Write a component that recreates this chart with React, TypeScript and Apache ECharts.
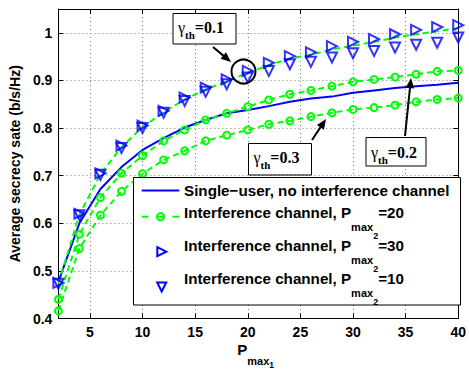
import React, { useEffect, useRef } from 'react';
import * as echarts from 'echarts';

// ---------- data ----------
const xValues = [2, 4, 6, 8, 10, 12, 14, 16, 18, 20, 22, 24, 26, 28, 30, 32, 34, 36, 38, 40];
const singleUser = [0.477, 0.600, 0.672, 0.718, 0.754, 0.779, 0.801, 0.817, 0.831, 0.838, 0.846, 0.855, 0.862, 0.866, 0.874, 0.879, 0.884, 0.888, 0.891, 0.895];
const icGamma01 = [0.473, 0.618, 0.703, 0.760, 0.802, 0.833, 0.860, 0.881, 0.898, 0.916, 0.932, 0.946, 0.954, 0.965, 0.973, 0.981, 0.990, 0.997, 1.003, 1.010];
const icGamma02 = [0.440, 0.577, 0.654, 0.705, 0.742, 0.773, 0.796, 0.817, 0.831, 0.845, 0.859, 0.871, 0.879, 0.888, 0.897, 0.902, 0.907, 0.913, 0.919, 0.921];
const icGamma03 = [0.416, 0.547, 0.617, 0.667, 0.704, 0.733, 0.752, 0.773, 0.785, 0.796, 0.808, 0.815, 0.824, 0.832, 0.839, 0.843, 0.848, 0.855, 0.860, 0.863];
const icPmax30 = [0.475, 0.620, 0.705, 0.763, 0.805, 0.836, 0.864, 0.885, 0.902, 0.920, 0.937, 0.951, 0.959, 0.972, 0.981, 0.987, 0.997, 1.006, 1.012, 1.016];
const icPmax10 = [0.473, 0.617, 0.702, 0.758, 0.800, 0.832, 0.857, 0.876, 0.892, 0.906, 0.920, 0.934, 0.939, 0.948, 0.957, 0.962, 0.969, 0.975, 0.979, 0.990];
const xTicks = [5, 10, 15, 20, 25, 30, 35, 40];
const yTicks = [0.4, 0.5, 0.6, 0.7, 0.8, 0.9, 1.0];

const legendSingle = 'Single\u2212user, no interference channel';
const legendIcMain = 'Interference channel, P';
const legendIcValues = ['=20', '=30', '=10'];
const annotationLabels = ['=0.1', '=0.2', '=0.3'];

const BLUE = '#0000ff';
const GREEN = '#00ff00';
const SANS = '"Liberation Sans", Arial, Helvetica, sans-serif';
const SERIF = '"Liberation Serif", "Times New Roman", serif';

const pairs = (ys: number[]) => xValues.map((x, i) => [x, ys[i]]);

type Part = { text: string; size: number; weight: string; family: string; dy: number };

let measureCtx: CanvasRenderingContext2D | null = null;
function measure(p: Part) {
  if (!measureCtx) measureCtx = document.createElement('canvas').getContext('2d');
  if (!measureCtx) return p.text.length * p.size * 0.55;
  measureCtx.font = `${p.weight} ${p.size}px ${p.family}`;
  return measureCtx.measureText(p.text).width;
}

function partsWidth(parts: Part[]) {
  return parts.reduce((s, p) => s + measure(p), 0);
}

function composite(x: number, centerY: number, parts: Part[], z = 101) {
  const out: any[] = [];
  let cx = x;
  for (const p of parts) {
    out.push({
      type: 'text',
      x: cx,
      y: centerY + p.dy,
      z,
      style: {
        text: p.text,
        fontSize: p.size,
        fontWeight: p.weight,
        fontFamily: p.family,
        fill: '#000',
        align: 'left',
        verticalAlign: 'middle',
      },
    });
    cx += measure(p);
  }
  return out;
}

function arrow(x1: number, y1: number, x2: number, y2: number) {
  const dx = x2 - x1;
  const dy = y2 - y1;
  const len = Math.hypot(dx, dy);
  const ux = dx / len;
  const uy = dy / len;
  const hl = 10;
  const hw = 4.2;
  const bx = x2 - ux * hl;
  const by = y2 - uy * hl;
  return [
    { type: 'line', shape: { x1, y1, x2: bx + ux * 2, y2: by + uy * 2 }, style: { stroke: '#000', lineWidth: 2 }, z: 100 },
    {
      type: 'polygon',
      shape: { points: [[x2, y2], [bx - uy * hw, by + ux * hw], [bx + uy * hw, by - ux * hw]] },
      style: { fill: '#000' },
      z: 100,
    },
  ];
}

function annotation(bx: number, by: number, bw: number, bh: number, textCenterY: number, label: string) {
  const parts: Part[] = [
    { text: '\u03b3', size: 16, weight: 'normal', family: SERIF, dy: 0 },
    { text: 'th', size: 11, weight: 'bold', family: SERIF, dy: 7.5 },
    { text: label, size: 16, weight: 'bold', family: SERIF, dy: 0 },
  ];
  return [
    { type: 'rect', shape: { x: bx, y: by, width: bw, height: bh }, style: { fill: '#fff', stroke: '#000', lineWidth: 1 }, z: 100 },
    ...composite(bx + 5, textCenterY, parts),
  ];
}

const LEG_SIZE = 15.2;

function legendIcParts(value: string): Part[] {
  return [
    { text: legendIcMain, size: LEG_SIZE, weight: 'bold', family: SANS, dy: 0 },
    { text: 'max', size: 11, weight: 'bold', family: SANS, dy: 14.5 },
    { text: '2', size: 9, weight: 'bold', family: SANS, dy: 23.5 },
    { text: value, size: LEG_SIZE, weight: 'bold', family: SANS, dy: 0 },
  ];
}

export default function App() {
  const ref = useRef<HTMLDivElement>(null);

  useEffect(() => {
    if (!ref.current) return;
    const chart = echarts.init(ref.current, undefined, { renderer: 'svg' });

    const gridLine = { show: true, lineStyle: { color: '#7a7a7a', width: 1, type: [1, 3] } };
    const axisLineStyle = { show: true, onZero: false, lineStyle: { color: '#000', width: 1 } };
    const tickStyle = { show: true, inside: true, length: 5, lineStyle: { color: '#000', width: 1 } };
    const labelStyle = { color: '#000', fontSize: 14, fontWeight: 'bold', fontFamily: SANS };

    const hollow = (c: string) => ({ color: 'rgba(0,0,0,0)', borderColor: c, borderWidth: 2 });

    const xNameParts: Part[] = [
      { text: 'P', size: 15, weight: 'bold', family: SANS, dy: 0 },
      { text: 'max', size: 11, weight: 'bold', family: SANS, dy: 11 },
      { text: '1', size: 8.5, weight: 'bold', family: SANS, dy: 15 },
    ];
    const xNameX = 255.7 - partsWidth(xNameParts) / 2;

    const graphicElements: any[] = [
      // annotations
      ...annotation(173, 13.5, 63, 30.5, 27, annotationLabels[0]),
      ...annotation(248.5, 143.5, 63, 31.5, 157, annotationLabels[2]),
      ...annotation(366, 137.5, 60, 28.5, 152.5, annotationLabels[1]),
      ...arrow(213, 47, 231, 62),
      ...arrow(312, 140, 326, 119),
      ...arrow(405, 136, 411, 78),
      { type: 'circle', shape: { cx: 243.5, cy: 71.5, r: 12 }, style: { fill: 'rgba(0,0,0,0)', stroke: '#000', lineWidth: 2 }, z: 100 },
      // legend
      { type: 'rect', shape: { x: 133.5, y: 177.5, width: 327, height: 127.5 }, style: { fill: '#fff', stroke: '#000', lineWidth: 1 }, z: 100 },
      { type: 'line', shape: { x1: 141.7, y1: 190.5, x2: 179.3, y2: 190.5 }, style: { stroke: BLUE, lineWidth: 2 }, z: 101 },
      { type: 'line', shape: { x1: 141.7, y1: 216.7, x2: 148.5, y2: 216.7 }, style: { stroke: GREEN, lineWidth: 2 }, z: 101 },
      { type: 'line', shape: { x1: 157.5, y1: 216.7, x2: 163.5, y2: 216.7 }, style: { stroke: GREEN, lineWidth: 2 }, z: 101 },
      { type: 'line', shape: { x1: 172.5, y1: 216.7, x2: 179.3, y2: 216.7 }, style: { stroke: GREEN, lineWidth: 2 }, z: 101 },
      { type: 'circle', shape: { cx: 160.5, cy: 216.7, r: 3.6 }, style: { fill: 'rgba(0,0,0,0)', stroke: GREEN, lineWidth: 2 }, z: 101 },
      {
        type: 'polygon',
        shape: { points: [[157.3, 247.2], [166.3, 251.7], [157.3, 256.2]] },
        style: { fill: 'rgba(0,0,0,0)', stroke: BLUE, lineWidth: 2 },
        z: 101,
      },
      {
        type: 'polygon',
        shape: { points: [[157.2, 282.5], [166.2, 282.5], [161.7, 291.5]] },
        style: { fill: 'rgba(0,0,0,0)', stroke: BLUE, lineWidth: 2 },
        z: 101,
      },
      ...composite(184, 190.5, [{ text: legendSingle, size: LEG_SIZE, weight: 'bold', family: SANS, dy: 0 }]),
      ...composite(184, 212.7, legendIcParts(legendIcValues[0])),
      ...composite(184, 245, legendIcParts(legendIcValues[1])),
      ...composite(184, 278.3, legendIcParts(legendIcValues[2])),
      // x axis title
      ...composite(xNameX, 349.5, xNameParts, 50),
    ];

    chart.setOption({
      animation: false,
      backgroundColor: '#fff',
      grid: { left: 52, right: 9, top: 9, bottom: 50.5, show: false },
      xAxis: [
        {
          type: 'value',
          min: 2,
          max: 40,
          position: 'bottom',
          axisLine: axisLineStyle,
          axisTick: { ...tickStyle, customValues: xTicks },
          axisLabel: { ...labelStyle, customValues: xTicks, margin: 6 },
          splitLine: gridLine,
        },
        {
          type: 'value',
          min: 2,
          max: 40,
          position: 'top',
          axisLine: axisLineStyle,
          axisTick: { ...tickStyle, customValues: xTicks },
          axisLabel: { show: false, customValues: xTicks },
          splitLine: { show: false },
        },
      ],
      yAxis: [
        {
          type: 'value',
          min: 0.4,
          max: 1.05,
          interval: 0.1,
          position: 'left',
          axisLine: axisLineStyle,
          axisTick: { ...tickStyle, customValues: yTicks },
          axisLabel: { ...labelStyle, customValues: yTicks, margin: 6 },
          splitLine: gridLine,
          name: 'Average secrecy sate (b/s/Hz)',
          nameLocation: 'middle',
          nameRotate: 90,
          nameGap: 34,
          nameTextStyle: { color: '#000', fontSize: 14, fontWeight: 'bold', fontFamily: SANS },
        },
        {
          type: 'value',
          min: 0.4,
          max: 1.05,
          interval: 0.1,
          position: 'right',
          axisLine: axisLineStyle,
          axisTick: { ...tickStyle, customValues: yTicks },
          axisLabel: { show: false },
          splitLine: { show: false },
        },
      ],
      series: [
        {
          type: 'line',
          name: 'Single-user, no interference channel',
          data: pairs(singleUser),
          showSymbol: false,
          symbol: 'none',
          lineStyle: { color: BLUE, width: 2 },
          z: 2,
        },
        {
          type: 'line',
          name: 'Interference channel gamma 0.1',
          data: pairs(icGamma01),
          symbol: 'none',
          lineStyle: { color: GREEN, width: 2, type: [6, 4] },
          z: 3,
        },
        {
          type: 'line',
          name: 'Interference channel gamma 0.2',
          data: pairs(icGamma02),
          symbol: 'circle',
          symbolSize: 7,
          itemStyle: hollow(GREEN),
          lineStyle: { color: GREEN, width: 2, type: [6, 4] },
          z: 3,
        },
        {
          type: 'line',
          name: 'Interference channel gamma 0.3',
          data: pairs(icGamma03),
          symbol: 'circle',
          symbolSize: 7,
          itemStyle: hollow(GREEN),
          lineStyle: { color: GREEN, width: 2, type: [6, 4] },
          z: 3,
        },
        {
          type: 'scatter',
          name: 'Interference channel, Pmax2=30',
          data: pairs(icPmax30),
          symbol: 'triangle',
          symbolRotate: -90,
          symbolSize: 10,
          itemStyle: hollow(BLUE),
          z: 4,
        },
        {
          type: 'scatter',
          name: 'Interference channel, Pmax2=10',
          data: pairs(icPmax10),
          symbol: 'triangle',
          symbolRotate: 180,
          symbolSize: 10,
          itemStyle: hollow(BLUE),
          z: 4,
        },
      ],
      graphic: { elements: graphicElements },
    });

    return () => chart.dispose();
  }, []);

  return (
    <div
      ref={ref}
      style={{ position: 'fixed', left: 0, top: 0, width: 469, height: 369, background: '#fff' }}
    />
  );
}
